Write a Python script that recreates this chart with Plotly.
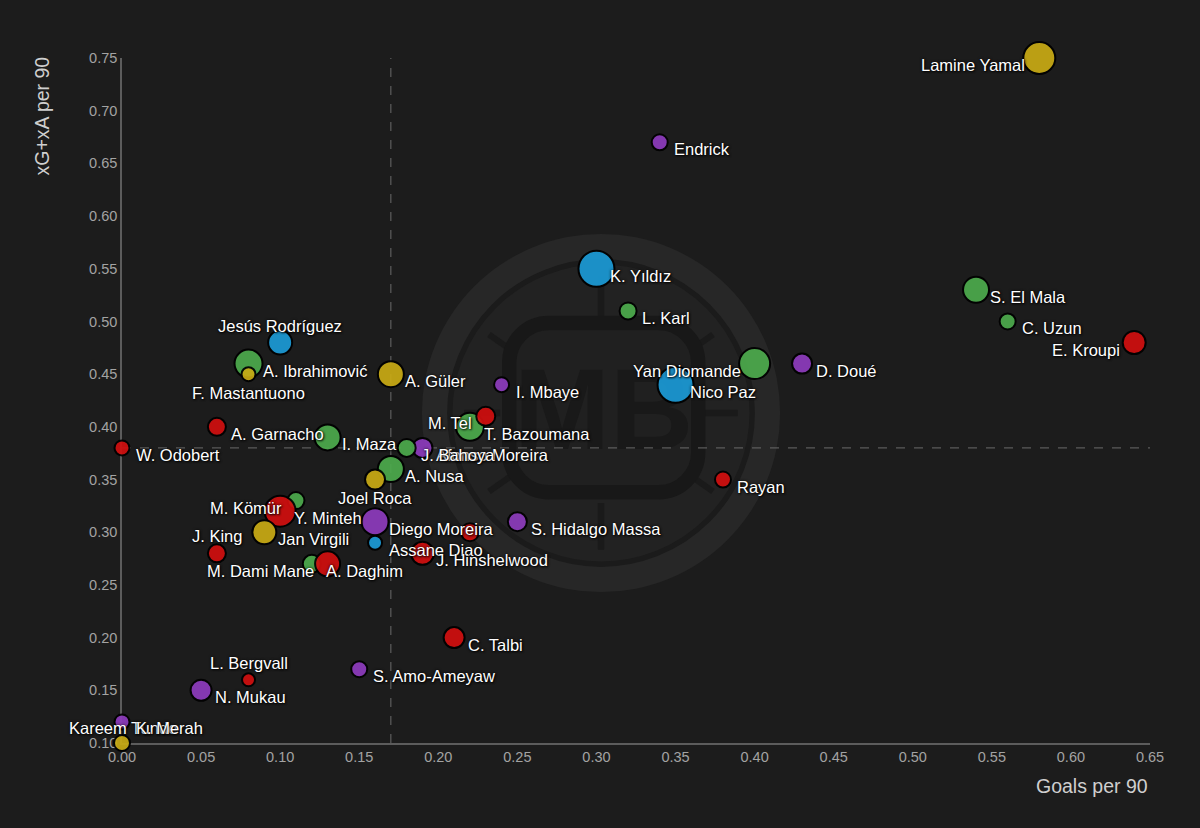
import base64
import plotly.graph_objects as go

# ---------------- data ----------------
players = [
    "Lamine Yamal", "Endrick", "K. Yıldız", "L. Karl", "S. El Mala", "C. Uzun",
    "E. Kroupi", "Yan Diomande", "Nico Paz", "D. Doué", "Rayan", "S. Hidalgo Massa",
    "C. Talbi", "S. Amo-Ameyaw", "I. Mbaye", "M. Tel", "T. Bazoumana", "J. Bahoya",
    "Afonso Moreira", "A. Nusa", "Joel Roca", "Diego Moreira", "Assane Diao",
    "J. Hinshelwood", "Unlabelled", "I. Maza", "A. Garnacho", "W. Odobert",
    "A. Ibrahimović", "F. Mastantuono", "Jesús Rodríguez", "A. Güler", "M. Kömür",
    "Y. Minteh", "Jan Virgili", "J. King", "M. Dami Mane", "A. Daghim", "N. Mukau",
    "L. Bergvall", "Kareem Tunde", "K. Merah",
]
goals_per_90 = [
    0.58, 0.34, 0.30, 0.32, 0.54, 0.56,
    0.64, 0.40, 0.35, 0.43, 0.38, 0.25,
    0.21, 0.15, 0.24, 0.23, 0.22, 0.18,
    0.19, 0.17, 0.16, 0.16, 0.16,
    0.19, 0.22, 0.13, 0.06, 0.00,
    0.08, 0.08, 0.10, 0.17, 0.11,
    0.10, 0.09, 0.06, 0.13, 0.12, 0.05,
    0.08, 0.00, 0.00,
]
xg_xa_per_90 = [
    0.75, 0.67, 0.55, 0.51, 0.53, 0.50,
    0.48, 0.46, 0.44, 0.46, 0.35, 0.31,
    0.20, 0.17, 0.44, 0.41, 0.40, 0.38,
    0.38, 0.36, 0.35, 0.31, 0.29,
    0.28, 0.30, 0.39, 0.40, 0.38,
    0.46, 0.45, 0.48, 0.45, 0.33,
    0.32, 0.30, 0.28, 0.27, 0.27, 0.15,
    0.16, 0.12, 0.10,
]
league = [
    "LaLiga", "Ligue 1", "Serie A", "Bundesliga", "Bundesliga", "Bundesliga",
    "Premier League", "Bundesliga", "Serie A", "Ligue 1", "Premier League", "Ligue 1",
    "Premier League", "Ligue 1", "Ligue 1", "Premier League", "Bundesliga", "Bundesliga",
    "Ligue 1", "Bundesliga", "LaLiga", "Ligue 1", "Serie A",
    "Premier League", "Premier League", "Bundesliga", "Premier League", "Premier League",
    "Bundesliga", "LaLiga", "Serie A", "LaLiga", "Bundesliga",
    "Premier League", "LaLiga", "Premier League", "Premier League", "Bundesliga", "Ligue 1",
    "Premier League", "Ligue 1", "LaLiga",
]
# relative bubble measure
bubble = [
    34, 18, 38, 19, 28, 18,
    25, 33, 38, 22, 18, 21,
    23, 18, 17, 21, 30, 20,
    22, 28, 22, 29, 16,
    25, 20, 28, 20, 17,
    30, 16, 26, 28, 19,
    33, 26, 20, 27, 20, 23,
    15, 17, 18,
]
avg_goals_per_90 = 0.17
avg_xg_xa_per_90 = 0.38

x_ticks = [round(0.05 * i, 2) for i in range(14)]
y_ticks = [round(0.10 + 0.05 * i, 2) for i in range(14)]

# ---------------- styling ----------------
label_side = [
    "l", "r", "r", "r", "r", "r",
    "l", "l", "r", "r", "r", "r",
    "r", "r", "r", "l", "r", "r",
    "r", "r", "b", "r", "r",
    "r", "none", "r", "r", "r",
    "r", "b", "t", "r", "l",
    "r", "r", "t", "l", "r", "r",
    "t", "c", "rt",
]
colors = {
    "Premier League": "#d10e0e",
    "Bundesliga": "#4cab4c",
    "LaLiga": "#c9ab14",
    "Serie A": "#1b9ad6",
    "Ligue 1": "#8d3bbd",
}
draw_order = ["Ligue 1", "Serie A", "Bundesliga", "Premier League", "LaLiga"]

BG = "#1c1c1c"
L, R, T, B = 122, 50, 58, 85
W, H = 1200, 828
PW, PH = W - L - R, H - T - B


def paper(px, py):
    return (px - L) / PW, (H - B - py) / PH


fig = go.Figure()

for lg in draw_order:
    idx = [i for i, v in enumerate(league) if v == lg]
    fig.add_trace(go.Scatter(
        x=[goals_per_90[i] for i in idx],
        y=[xg_xa_per_90[i] for i in idx],
        mode="markers",
        name=lg,
        text=[players[i] for i in idx],
        hovertemplate="%{text}<br>Goals/90 %{x:.2f}<br>xG+xA/90 %{y:.2f}<extra></extra>",
        marker=dict(
            size=[bubble[i] - 2 for i in idx],
            sizemode="diameter",
            color=colors[lg],
            opacity=0.92,
            line=dict(color="#000000", width=2),
        ),
        cliponaxis=False,
        showlegend=False,
    ))

label_font = dict(family="Liberation Sans, Arial, Helvetica, sans-serif", size=16.5,
                  color="#ffffff",
                  shadow="0px 0px 3px rgba(0,0,0,0.95), 1px 1px 2px rgba(0,0,0,0.9)")
side_cfg = {
    "r": dict(xanchor="left", yanchor="middle", xshift=12, yshift=-7),
    "l": dict(xanchor="right", yanchor="middle", xshift=-12, yshift=-7),
    "t": dict(xanchor="center", yanchor="middle", xshift=0, yshift=17),
    "b": dict(xanchor="center", yanchor="middle", xshift=0, yshift=-18.5),
    "c": dict(xanchor="center", yanchor="middle", xshift=1, yshift=-6),
    "rt": dict(xanchor="left", yanchor="middle", xshift=12, yshift=15),
}
annotations = []
for i, name in enumerate(players):
    side = label_side[i]
    if side == "none":
        continue
    annotations.append(dict(x=goals_per_90[i], y=xg_xa_per_90[i], xref="x", yref="y",
                            text=name, showarrow=False, font=label_font,
                            **side_cfg[side]))

# draw "J. Bahoya" on top of "Afonso Moreira"
ib = [a["text"] for a in annotations].index("J. Bahoya")
ia = [a["text"] for a in annotations].index("Afonso Moreira")
annotations[ib], annotations[ia] = annotations[ia], annotations[ib]

ax_font = dict(family="Liberation Sans, Arial, Helvetica, sans-serif", size=19.5, color="#cfcfcf")
tx, ty = paper(42, 55)
annotations.append(dict(x=tx, y=ty, xref="paper", yref="paper", text="xG+xA per 90",
                        textangle=-90, showarrow=False, xanchor="center", yanchor="top",
                        font=ax_font))
gx, gy = paper(1150, 786)
annotations.append(dict(x=gx, y=gy, xref="paper", yref="paper", text="Goals per 90",
                        showarrow=False, xanchor="right", yanchor="middle", font=ax_font))

# ---------------- watermark (decorative logo) ----------------
seams = ""
import math
for ang in [270, 90, 215, 325, 35, 145]:
    a = math.radians(ang)
    x1, y1 = 200 + 100 * math.cos(a), 200 + 100 * math.sin(a)
    x2, y2 = 200 + 152 * math.cos(a), 200 + 152 * math.sin(a)
    seams += f'<line x1="{x1:.1f}" y1="{y1:.1f}" x2="{x2:.1f}" y2="{y2:.1f}" stroke="#1a1a1a" stroke-width="7"/>'
for ang in [0, 180]:
    a = math.radians(ang)
    x1, y1 = 200 + 112 * math.cos(a), 200 + 112 * math.sin(a)
    x2, y2 = 200 + 152 * math.cos(a), 200 + 152 * math.sin(a)
    seams += f'<line x1="{x1:.1f}" y1="{y1:.1f}" x2="{x2:.1f}" y2="{y2:.1f}" stroke="#1a1a1a" stroke-width="7"/>'
svg = f'''<svg xmlns="http://www.w3.org/2000/svg" width="400" height="400" viewBox="0 0 400 400">
<circle cx="200" cy="200" r="199" fill="#272727"/>
<circle cx="200" cy="200" r="168" fill="#222222" stroke="#1b1b1b" stroke-width="6"/>
{seams}
<rect x="98" y="100" width="210" height="188" rx="44" ry="44" fill="#202020" stroke="#181818" stroke-width="16"/>
<text x="203" y="240" text-anchor="middle" font-family="Liberation Sans Narrow, Liberation Sans, Arial" font-weight="bold" font-size="128" fill="#191919">MB</text>
</svg>'''
src = "data:image/svg+xml;base64," + base64.b64encode(svg.encode()).decode()
wx, wy = paper(601 - 180, 413 - 180)

shapes = [
    dict(type="line", xref="x", yref="paper", x0=avg_goals_per_90, x1=avg_goals_per_90,
         y0=0, y1=1, line=dict(color="#6b6b6b", width=1, dash="dash"), layer="below"),
    dict(type="line", xref="paper", yref="y", x0=0, x1=1, y0=avg_xg_xa_per_90,
         y1=avg_xg_xa_per_90, line=dict(color="#6b6b6b", width=1, dash="dash"), layer="below"),
]

tick_font = dict(family="Liberation Sans, Arial, Helvetica, sans-serif", size=14.5, color="#a3a3a3")
fig.update_layout(
    width=W, height=H,
    margin=dict(l=L, r=R, t=T, b=B),
    paper_bgcolor=BG, plot_bgcolor=BG,
    xaxis=dict(range=[0, 0.65], tickvals=x_ticks, tickformat=".2f", showgrid=False,
               zeroline=False, showline=True, linecolor="#5c5c5c", linewidth=1.5,
               ticks="", tickfont=tick_font, layer="below traces", fixedrange=True),
    yaxis=dict(range=[0.10, 0.75], tickvals=y_ticks, tickformat=".2f", showgrid=False,
               zeroline=False, showline=True, linecolor="#5c5c5c", linewidth=1.5,
               ticks="", tickfont=tick_font, layer="below traces", fixedrange=True),
    images=[dict(source=src, xref="paper", yref="paper", x=wx, y=wy,
                 sizex=360 / PW, sizey=360 / PH, xanchor="left", yanchor="top",
                 sizing="stretch", layer="below", opacity=1)],
    shapes=shapes,
    annotations=annotations,
    showlegend=False,
    hovermode="closest",
)

fig.write_html("out.html")
